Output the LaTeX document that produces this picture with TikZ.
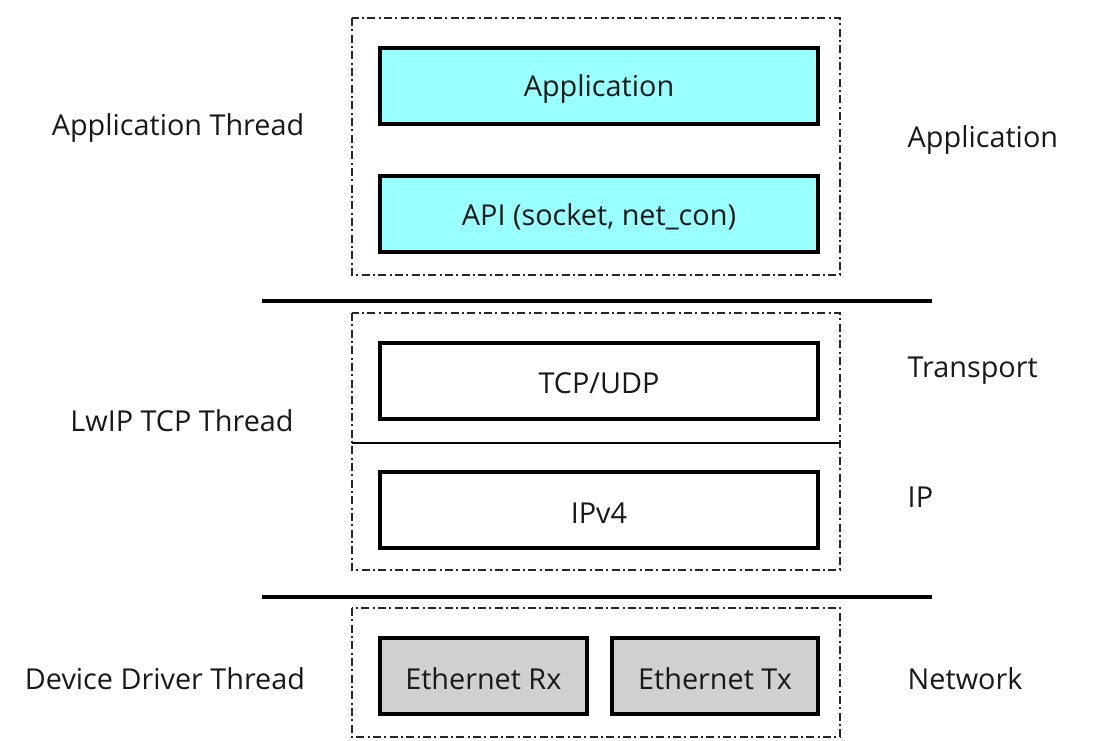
\documentclass[tikz,border=0pt]{standalone}
\usepackage{fontspec}
\setmainfont{Open Sans}
\definecolor{appcyan}{HTML}{99FFFF}
\definecolor{drvgray}{HTML}{D0D0D0}
\begin{document}
\begin{tikzpicture}[x=0.75pt,y=-0.75pt,
  txt/.style={font=\fontsize{21.6}{26}\selectfont, text=black!90, yshift=-2pt},
  layerbox/.style={draw=black, line width=3pt, fill=white, minimum height=57pt, anchor=north west, inner sep=0pt},
  threadbox/.style={draw=black!85, line width=1.5pt, dash pattern=on 6pt off 2.5pt on 1.5pt off 2.5pt},
  sepline/.style={draw=black, line width=2.4pt},
  leftlabel/.style={txt, anchor=center},
  rightlabel/.style={txt, anchor=west}
]
\useasboundingbox (0,0) rectangle (1096,741);
% thread boxes
\draw[threadbox] (352,18) rectangle (840,275);
\draw[threadbox] (352,313) rectangle (840,570);
\draw[threadbox] (352,608) rectangle (840,737);
% inner separator in lwip box
\coordinate (inl) at (352,443);
\coordinate (inr) at (840,443);
\draw[black, line width=1.7pt] (inl) -- (inr);
% separators
\coordinate (s1l) at (262,301); \coordinate (s1r) at (932,301);
\coordinate (s2l) at (262,597); \coordinate (s2r) at (932,597);
\draw[sepline] (s1l) -- (s1r);
\draw[sepline] (s2l) -- (s2r);
% layer boxes
\node[layerbox, fill=appcyan, minimum width=328.5pt] (app) at (378,46) {};
\node[txt] at (app.center) (appt) {Application};
\node[layerbox, fill=appcyan, minimum width=328.5pt] (api) at (378,174) {};
\node[txt] at (api.center) (apit) {API (socket, net\_con)};
\node[layerbox, minimum width=328.5pt] (tcp) at (378,341) {};
\node[txt] at (tcp.center) (tcpt) {TCP/UDP};
\node[layerbox, minimum width=328.5pt] (ip) at (378,470) {};
\node[txt] at (ip.center) (ipt) {IPv4};
\node[layerbox, fill=drvgray, minimum width=155pt] (rx) at (378,636) {};
\node[txt] at (rx.center) (rxt) {Ethernet Rx};
\node[layerbox, fill=drvgray, minimum width=154.5pt] (tx) at (610,636) {};
\node[txt] at (tx.center) (txt) {Ethernet Tx};
% left labels
\node[leftlabel] (l1) at (178,125) {Application Thread};
\node[leftlabel] (l2) at (182,418) {LwIP TCP Thread};
\node[leftlabel] (l3) at (165,676) {Device Driver Thread};
% right labels
\node[rightlabel] (r1) at (903,137) {Application};
\node[rightlabel] (r2) at (903,368) {Transport};
\node[rightlabel] (r3) at (903,495) {IP};
\node[rightlabel] (r4) at (903,676) {Network};
\end{tikzpicture}
\end{document}
